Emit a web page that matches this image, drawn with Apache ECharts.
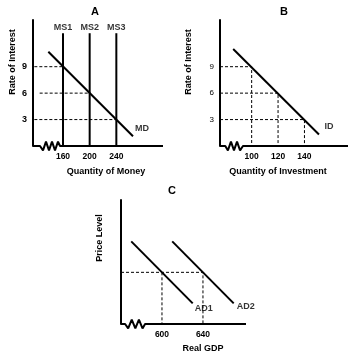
<!DOCTYPE html>
<html><head><meta charset="utf-8">
<script src="https://cdn.jsdelivr.net/npm/echarts@6/dist/echarts.min.js"></script>
<style>html,body{margin:0;padding:0;background:#fff}#c{width:356px;height:360px}</style>
</head><body><div id="c"></div>
<script>
// ---- data ----
const rateTicks = [3, 6, 9];
const moneyTicks = [160, 200, 240];
const moneySupply = [160, 200, 240];
const moneySupplyLabels = ['MS1', 'MS2', 'MS3'];
const moneySupplyTop = 12.8;
const mdLine = [[138, 10.7], [265, 1.1]];
const investTicks = [100, 120, 140];
const idLine = [[86, 11.0], [151, 1.3]];
const gdpTicks = [600, 640];
const priceLevel = 5;
const ad1Line = [[570, 8], [630, 2]];
const ad2Line = [[610, 8], [670, 2]];
// axis break (zig-zag) points, in data units
const breakA = [[125.5, 0], [130, -0.5], [134.5, 0.5], [139, -0.5], [143.5, 0.5], [148, -0.5], [152.5, 0.5], [155.5, 0]];
const breakB = [[80, 0], [82, -0.5], [84.3, 0.5], [86.6, -0.5], [88.9, 0.5], [91.2, -0.5], [93.4, 0]];
const breakC = [[564, 0], [567, -0.43], [570.5, 0.43], [574, -0.43], [577.5, 0.43], [581, -0.43], [583.5, 0]];
const dashStartA = [117, 125, 117];
// ---- ranges ----
const xA = [115, 310], xB = [76, 173], xC = [560, 682];
const yAB = [0, 14.3], yC = [0, 12];

const FONT = "'Liberation Sans', Arial, Helvetica, sans-serif";
const black = '#000';
const solid = {color: black, width: 2};
const dashed = {color: black, width: 1, type: [3, 2]};

function lineSeries(data, xi, style, extra) {
  return Object.assign({type: 'line', xAxisIndex: xi, yAxisIndex: xi, data: data, symbol: 'none',
    lineStyle: style, silent: true, animation: false, z: 3}, extra || {});
}
function axisSeries(xi, range, brk) {
  return lineSeries([[range[0], 0]].concat(brk).concat([[range[1], 0]]), xi, solid, {clip: false});
}
function labelSeries(xi, items) {
  return {type: 'scatter', xAxisIndex: xi, yAxisIndex: xi, symbol: 'circle', symbolSize: 1, silent: true,
    clip: false, itemStyle: {color: 'rgba(0,0,0,0)'}, z: 5,
    data: items.map(it => ({value: it.p, label: {show: true, formatter: it.t, position: it.pos || 'inside',
      offset: it.off || [0, 0], distance: it.dist === undefined ? 5 : it.dist,
      color: black, fontWeight: 'bold', fontSize: 9, fontFamily: FONT}}))};
}

const series = [];
// Panel A
series.push(axisSeries(0, xA, breakA));
moneySupply.forEach((m) => {
  series.push(lineSeries([[m, 0], [m, moneySupplyTop]], 0, solid));
});
series.push(lineSeries(mdLine, 0, solid));
rateTicks.forEach((r, i) => {
  series.push(lineSeries([[dashStartA[i], r], [moneySupply[2 - i], r]], 0, dashed));
});
series.push(labelSeries(0, moneySupply.map((m, i) => ({p: [m, moneySupplyTop], t: moneySupplyLabels[i], pos: 'top', dist: 1}))
  .concat([{p: mdLine[1], t: 'MD', off: [9, -8]}])));
// Panel B
series.push(axisSeries(1, xB, breakB));
series.push(lineSeries(idLine, 1, solid));
rateTicks.forEach((r, i) => {
  const q = investTicks[2 - i];
  series.push(lineSeries([[xB[0], r], [q, r], [q, 0]], 1, dashed));
});
series.push(labelSeries(1, [{p: idLine[1], t: 'ID', off: [10, -8]}]));
// Panel C
series.push(axisSeries(2, xC, breakC));
series.push(lineSeries(ad1Line, 2, solid));
series.push(lineSeries(ad2Line, 2, solid));
series.push(lineSeries([[xC[0], priceLevel], [gdpTicks[1], priceLevel], [gdpTicks[1], 0]], 2, dashed));
series.push(lineSeries([[gdpTicks[0], priceLevel], [gdpTicks[0], 0]], 2, dashed));
series.push(labelSeries(2, [{p: ad1Line[1], t: 'AD1', off: [11, 5]}, {p: ad2Line[1], t: 'AD2', off: [12, 3]}]));

function xAxis(gi, range, interval, ticks) {
  return {type: 'value', gridIndex: gi, min: range[0], max: range[1], interval: interval,
    axisLine: {show: false}, axisTick: {show: false}, splitLine: {show: false},
    axisLabel: {showMinLabel: true, showMaxLabel: false, margin: 6, color: black, fontWeight: 'bold', fontSize: 8.5, fontFamily: FONT,
      formatter: v => ticks.indexOf(v) >= 0 ? String(v) : ''}};
}
function yAxis(gi, range, ticks, weight, size) {
  return {type: 'value', gridIndex: gi, min: range[0], max: range[1], interval: 3,
    axisLine: {show: true, onZero: false, lineStyle: solid}, axisTick: {show: false}, splitLine: {show: false},
    axisLabel: {show: ticks.length > 0, showMaxLabel: false, margin: 6, color: black, fontWeight: weight, fontSize: size, fontFamily: FONT,
      formatter: v => ticks.indexOf(v) >= 0 ? String(v) : ''}};
}

function txt(text, x, y, size, rot) {
  return {type: 'text', x: x, y: y, rotation: rot || 0, silent: true,
    style: {text: text, fill: black, font: 'bold ' + size + 'px ' + FONT, textAlign: 'center', textVerticalAlign: 'middle'}};
}

const chart = echarts.init(document.getElementById('c'), null, {renderer: 'canvas'});
chart.setOption({
  animation: false,
  backgroundColor: '#fff',
  grid: [
    {left: 33, top: 20, width: 130, height: 126},
    {left: 220, top: 20, width: 128, height: 126},
    {left: 121, top: 200, width: 125, height: 124}
  ],
  xAxis: [xAxis(0, xA, 5, moneyTicks), xAxis(1, xB, 1, investTicks), xAxis(2, xC, 40, gdpTicks)],
  yAxis: [yAxis(0, yAB, rateTicks, 'bold', 9), yAxis(1, yAB, rateTicks, 'normal', 8), yAxis(2, yC, [], 'bold', 9)],
  series: series,
  graphic: [
    txt('A', 95, 12, 11), txt('B', 284, 12, 11), txt('C', 172, 191, 11),
    txt('Rate of Interest', 13, 62, 9, Math.PI / 2),
    txt('Rate of Interest', 189, 62, 9, Math.PI / 2),
    txt('Price Level', 100, 238, 9, Math.PI / 2),
    txt('Quantity of Money', 106, 172, 9),
    txt('Quantity of Investment', 278, 172, 9),
    txt('Real GDP', 203, 349, 9)
  ]
});
</script></body></html>
